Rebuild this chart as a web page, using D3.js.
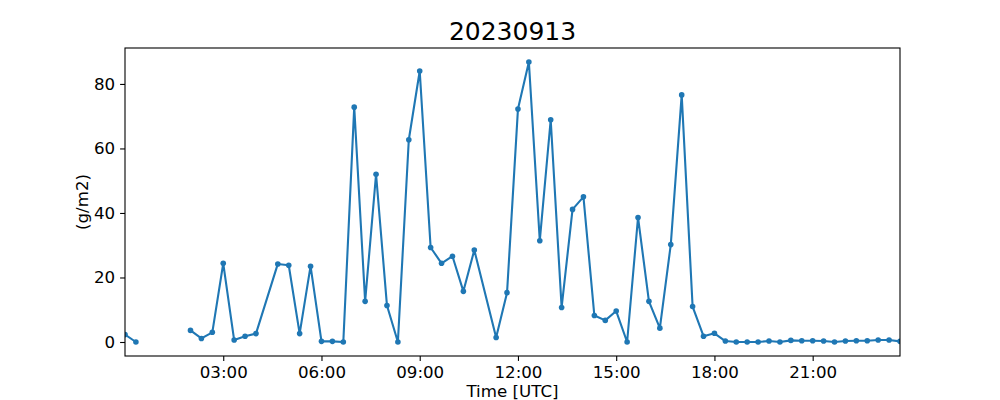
<!DOCTYPE html>
<html>
<head>
<meta charset="utf-8">
<script src="https://cdn.jsdelivr.net/npm/d3@7"></script>
<style>
  html, body { margin: 0; padding: 0; background: #fff; }
  svg { display: block; font-family: "DejaVu Sans", sans-serif; }
</style>
</head>
<body>
<svg id="chart" width="1000" height="400"></svg>
<script>
// ---- data (20-minute samples, 13 Sep 2023, UTC) ----
const chartTitle = "20230913";
const yLabel = "(g/m2)";
const xLabel = "Time [UTC]";
const times = [
  "00:00","00:20","00:40","01:00","01:20","01:40","02:00","02:20","02:40",
  "03:00","03:20","03:40","04:00","04:40","05:00","05:20","05:40",
  "06:00","06:20","06:40","07:00","07:20","07:40","08:00","08:20","08:40",
  "09:00","09:20","09:40","10:00","10:20","10:40","11:20","11:40",
  "12:00","12:20","12:40","13:00","13:20","13:40","14:00","14:20","14:40",
  "15:00","15:20","15:40","16:00","16:20","16:40","17:00","17:20","17:40",
  "18:00","18:20","18:40","19:00","19:20","19:40","20:00","20:20","20:40",
  "21:00","21:20","21:40","22:00","22:20","22:40","23:00","23:20","23:40"
];
const values = [
  2.3, 0.0, null, null, null, null, 3.6, 1.1, 3.0,
  24.4, 0.6, 1.8, 2.6, 24.2, 23.8, 2.6, 23.5,
  0.2, 0.2, 0.0, 72.8, 12.6, 52.0, 11.3, 0.0, 62.7,
  84.0, 29.3, 24.4, 26.6, 15.7, 28.5, 1.4, 15.3,
  72.2, 86.8, 31.4, 68.9, 10.7, 41.1, 45.0, 8.2, 6.7,
  9.6, 0.0, 38.6, 12.6, 4.3, 30.2, 76.6, 11.0, 1.8,
  2.7, 0.3, 0.0, 0.0, 0.0, 0.3, 0.0, 0.5, 0.4,
  0.4, 0.3, 0.0, 0.3, 0.4, 0.4, 0.6, 0.6, 0.2
];
const xTickLabels = ["03:00","06:00","09:00","12:00","15:00","18:00","21:00"];
const yTickValues = [0, 20, 40, 60, 80];

// ---- layout ----
const svg = d3.select("#chart");
const mLeft = 125, mRight = 900, mTop = 48, mBottom = 356;
const lineColor = "#1f77b4";
const font = "16.67px";

const parse = d3.utcParse("%Y-%m-%d %H:%M");
const day = "2023-09-13 ";
const data = times.map((t, i) => ({ t: parse(day + t), v: values[i] }));

const x = d3.scaleUtc()
  .domain(d3.extent(data, d => d.t))
  .range([mLeft, mRight]);

const vals = values.filter(v => v !== null);
const vmin = d3.min(vals), vmax = d3.max(vals);
const pad = (vmax - vmin) * 0.05;
const y = d3.scaleLinear()
  .domain([vmin - pad, vmax + pad])
  .range([mBottom, mTop]);

// line
const line = d3.line()
  .defined(d => d.v !== null)
  .x(d => x(d.t))
  .y(d => y(d.v));

svg.append("clipPath").attr("id", "clip")
  .append("rect").attr("x", mLeft).attr("y", mTop)
  .attr("width", mRight - mLeft).attr("height", mBottom - mTop);

const plot = svg.append("g").attr("clip-path", "url(#clip)");
plot.append("path")
  .datum(data)
  .attr("fill", "none")
  .attr("stroke", lineColor)
  .attr("stroke-width", 2.1)
  .attr("stroke-linejoin", "round")
  .attr("stroke-linecap", "butt")
  .attr("d", line);

plot.selectAll("circle")
  .data(data.filter(d => d.v !== null))
  .join("circle")
  .attr("cx", d => x(d.t))
  .attr("cy", d => y(d.v))
  .attr("r", 2.8)
  .attr("fill", lineColor);

// axes
const xTicks = xTickLabels.map(s => parse(day + s));
const xAxis = d3.axisBottom(x)
  .tickValues(xTicks)
  .tickFormat(d3.utcFormat("%H:%M"))
  .tickSizeInner(4.9).tickSizeOuter(0).tickPadding(4.9);
const gx = svg.append("g").attr("transform", `translate(0,${mBottom})`).call(xAxis);

const yAxis = d3.axisLeft(y)
  .tickValues(yTickValues)
  .tickSizeInner(4.9).tickSizeOuter(0).tickPadding(4.9);
const gy = svg.append("g").attr("transform", `translate(${mLeft},0)`).call(yAxis);

[gx, gy].forEach(g => {
  g.select(".domain").remove();
  g.selectAll(".tick line").attr("stroke", "#000").attr("stroke-width", 1.1);
  g.selectAll(".tick text").attr("fill", "#000")
    .style("font-size", font).style("font-family", "DejaVu Sans");
});
gx.selectAll(".tick text").attr("dy", "0.76em");

// frame
svg.append("rect")
  .attr("x", mLeft).attr("y", mTop)
  .attr("width", mRight - mLeft).attr("height", mBottom - mTop)
  .attr("fill", "none").attr("stroke", "#000").attr("stroke-width", 1.1);

// title
svg.append("text")
  .attr("x", (mLeft + mRight) / 2).attr("y", 39.5)
  .attr("text-anchor", "middle")
  .style("font-size", "25px")
  .text(chartTitle);

// x label
svg.append("text")
  .attr("x", (mLeft + mRight) / 2).attr("y", 397)
  .attr("text-anchor", "middle")
  .style("font-size", font)
  .text(xLabel);

// y label
svg.append("text")
  .attr("transform", `translate(88,${(mTop + mBottom) / 2}) rotate(-90)`)
  .attr("text-anchor", "middle")
  .style("font-size", font)
  .text(yLabel);
</script>
</body>
</html>
